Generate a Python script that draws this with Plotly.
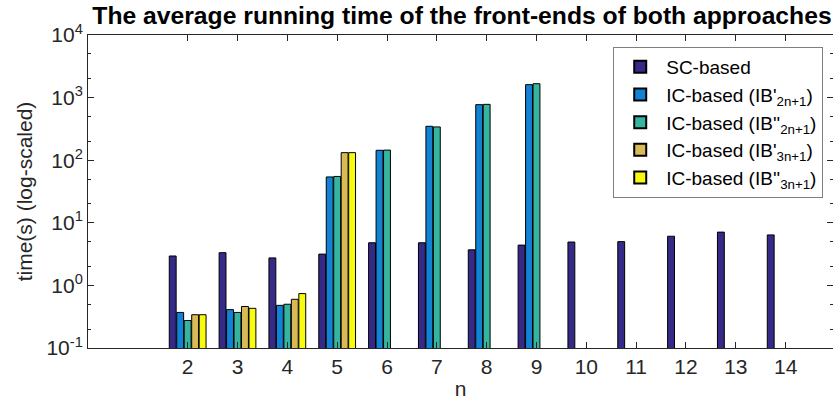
import plotly.graph_objects as go

n_values = [2, 3, 4, 5, 6, 7, 8, 9, 10, 11, 12, 13, 14]
sc_based = [2.95, 3.33, 2.75, 3.16, 4.8, 4.8, 3.7, 4.4, 4.93, 5.0, 6.1, 7.1, 6.4]
ic_ib1_2n = [0.37, 0.41, 0.48, 54, 144, 348, 771, 1610, None, None, None, None, None]
ic_ib2_2n = [0.275, 0.37, 0.50, 55, 145, 340, 780, 1667, None, None, None, None, None]
ic_ib1_3n = [0.34, 0.46, 0.60, 132, None, None, None, None, None, None, None, None, None]
ic_ib2_3n = [0.34, 0.43, 0.74, 132, None, None, None, None, None, None, None, None, None]

series_names = [
    "SC-based",
    "IC-based (IB'<sub>2n+1</sub>)",
    "IC-based (IB''<sub>2n+1</sub>)",
    "IC-based (IB'<sub>3n+1</sub>)",
    "IC-based (IB''<sub>3n+1</sub>)",
]
series_values = [sc_based, ic_ib1_2n, ic_ib2_2n, ic_ib1_3n, ic_ib2_3n]
series_colors = ["#352a87", "#1283d4", "#35b59f", "#d9ba56", "#f9fb0e"]

y_tickvals = [0.1, 1, 10, 100, 1000, 10000]
y_ticktext = ["10<sup>-1</sup>", "10<sup>0</sup>", "10<sup>1</sup>", "10<sup>2</sup>", "10<sup>3</sup>", "10<sup>4</sup>"]

fig = go.Figure()
for name, vals, col in zip(series_names, series_values, series_colors):
    fig.add_trace(go.Bar(
        x=n_values, y=vals, name=name,
        marker=dict(color=col, line=dict(color="black", width=1)),
    ))

axis_col = "#262626"
font_family = "Liberation Sans, Arial, Helvetica, sans-serif"

fig.update_layout(
    width=833, height=403,
    margin=dict(l=88, r=0, t=35, b=55),
    paper_bgcolor="white", plot_bgcolor="white",
    barmode="group", bargap=0.25, bargroupgap=0.08,
    font=dict(family=font_family, size=20, color=axis_col),
    title=dict(
        text="<b>The average running time of the front-ends of both approaches</b>",
        xref="paper", x=0.502, xanchor="center",
        yref="container", y=0.962, yanchor="middle",
        font=dict(size=24.7, color="black", family=font_family),
    ),
    showlegend=True,
    legend=dict(
        x=0.705, xanchor="left", y=0.962, yanchor="top",
        bgcolor="white", bordercolor="#7f7f7f", borderwidth=1,
        font=dict(size=19, color="black"),
        tracegroupgap=0, itemsizing="constant", itemwidth=42,
    ),
)

fig.update_xaxes(
    range=[0, 14.95], tickvals=n_values, ticktext=[str(v) for v in n_values],
    ticks="inside", ticklen=6, tickcolor=axis_col,
    showline=True, linecolor=axis_col, linewidth=1, mirror="ticks",
    showgrid=False, zeroline=False, automargin=False,
    title=dict(text="n", font=dict(size=21), standoff=4),
    tickfont=dict(size=21),
)
fig.update_yaxes(
    type="log", range=[-1, 4], tickvals=y_tickvals, ticktext=y_ticktext,
    ticks="inside", ticklen=6, tickcolor=axis_col,
    showline=True, linecolor=axis_col, linewidth=1, mirror="ticks",
    showgrid=False, zeroline=False, automargin=False,
    minor=dict(ticks="inside", ticklen=3, tickcolor=axis_col, showgrid=False),
    title=dict(text="time(s) (log-scaled)", font=dict(size=21), standoff=8),
    tickfont=dict(size=21),
)

fig.write_html(
    "out.html",
    config={"displayModeBar": False},
    post_script="document.body.style.margin='0';document.body.style.overflow='hidden';",
)
